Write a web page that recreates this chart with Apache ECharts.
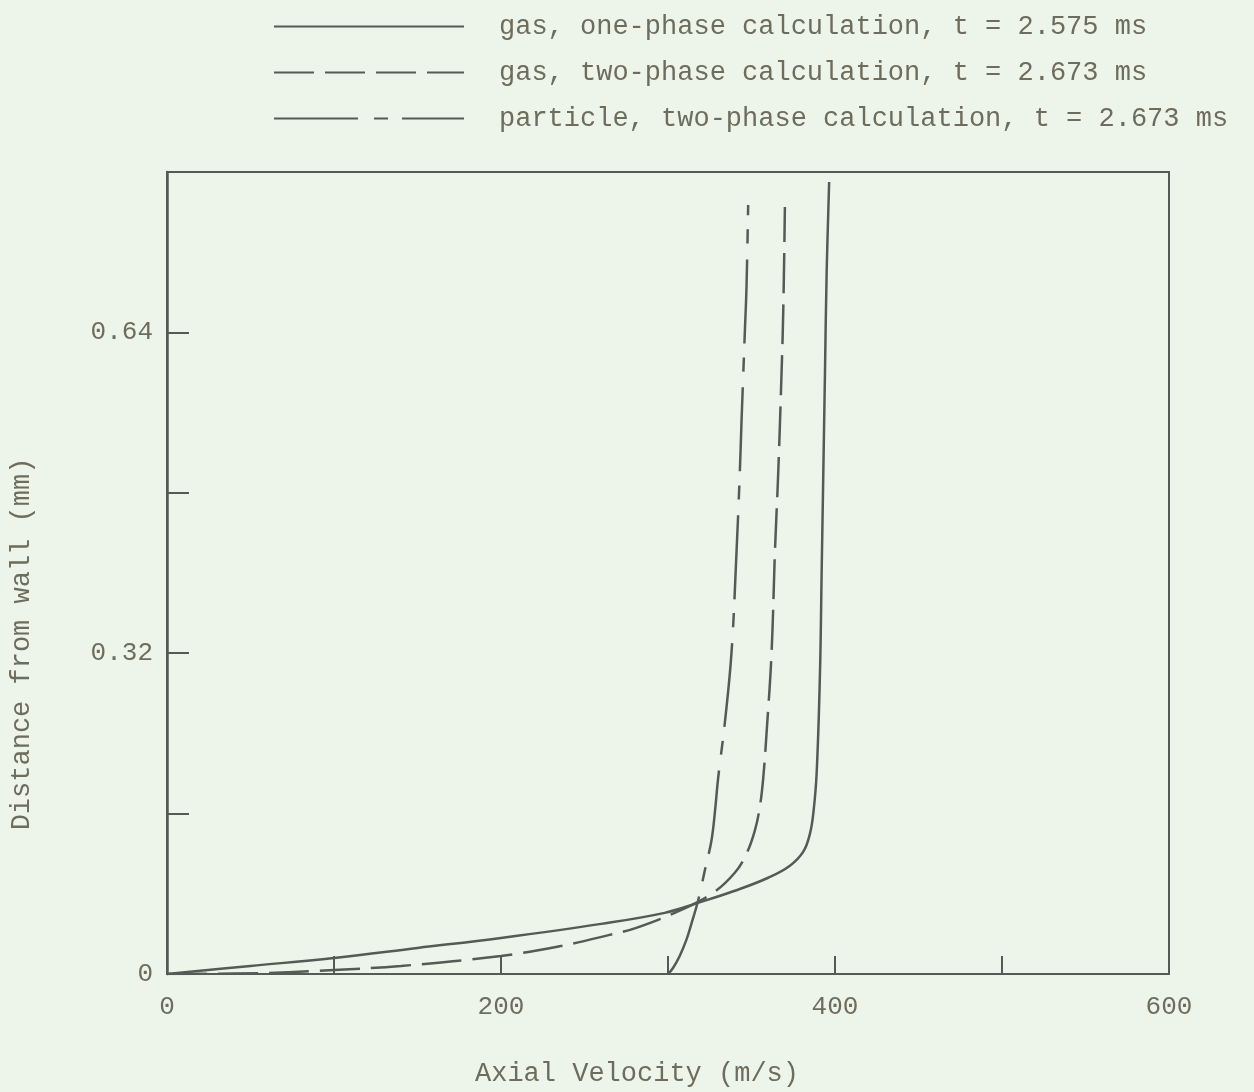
<!DOCTYPE html>
<html><head><meta charset="utf-8">
<script src="https://cdn.jsdelivr.net/npm/echarts@6/dist/echarts.min.js"></script>
<style>html,body{margin:0;padding:0;background:#edf5ea;}#c{width:1254px;height:1092px;}</style>
</head><body><div id="c"></div>
<script>
// Axial velocity (m/s) vs distance from wall (mm)
const seriesNames = [
  'gas, one-phase calculation, t = 2.575 ms',
  'gas, two-phase calculation, t = 2.673 ms',
  'particle, two-phase calculation, t = 2.673 ms'
];
const gasOnePhase = [
  [0,0],[50,0.008],[100,0.016],[150,0.026],[200,0.036],[260,0.050],[298,0.061],[318,0.071],
  [340,0.083],[360,0.096],[373,0.108],[381,0.122],[385,0.14],[387,0.16],[389,0.2],
  [391,0.3],[392,0.4],[393,0.5],[394,0.6],[395,0.7],[396.5,0.79]
];
const gasTwoPhase = [
  [0,0],[60,0.001],[100,0.004],[140,0.008],[200,0.018],[236,0.028],[265,0.039],[281,0.046],
  [308,0.064],[327,0.081],[340,0.101],[347,0.12],[352,0.143],[355,0.167],[357,0.195],
  [359,0.24],[362,0.32],[364,0.42],[366,0.5],[368,0.6],[369,0.66],[370,0.765]
];
const particleTwoPhase = [
  [300,0],[303,0.006],[307,0.018],[311,0.034],[314,0.05],[318,0.073],[322,0.103],
  [326,0.133],[328,0.16],[330,0.195],[334,0.25],[338,0.32],[341,0.42],[343,0.5],
  [344,0.55],[346,0.64],[347,0.685],[348,0.767]
];
const xTicks = [0, 200, 400, 600];
const yTickLabels = [0, 0.32, 0.64];

const FONT = 'Liberation Mono';
const TXT = '#6e6c5c';
const LINE = '#545a55';
const chart = echarts.init(document.getElementById('c'));
chart.setOption({
  backgroundColor: '#edf5ea',
  animation: false,
  legend: {
    orient: 'vertical', left: 268, top: 8,
    itemWidth: 190, itemHeight: 14, itemGap: 19,
    itemStyle: { opacity: 0 },
    textStyle: { fontFamily: FONT, fontSize: 27, color: TXT, padding: [0,0,0,30] },
    data: seriesNames
  },
  grid: { left: 163, right: 85, top: 172, bottom: 117, show: true, borderColor: LINE, borderWidth: 2, backgroundColor: 'transparent' },
  xAxis: {
    type: 'value', min: 0, max: 600, interval: 100,
    name: 'Axial Velocity (m/s)', nameLocation: 'middle', nameGap: 86,
    nameTextStyle: { fontFamily: FONT, fontSize: 27, color: TXT, padding: [0, 62, 0, 0] },
    axisLine: { lineStyle: { color: LINE, width: 2 } },
    axisTick: { inside: true, length: 18, lineStyle: { color: LINE, width: 2 } },
    splitLine: { show: false },
    axisLabel: { margin: 20, fontFamily: FONT, fontSize: 26, color: TXT,
      formatter: v => xTicks.includes(v) ? String(v) : '' }
  },
  yAxis: {
    type: 'value', min: 0, max: 0.8, interval: 0.16,
    name: 'Distance from wall (mm)', nameLocation: 'middle', nameGap: 132, nameRotate: 90,
    nameTextStyle: { fontFamily: FONT, fontSize: 27, color: TXT, padding: [0, 142, 0, 0] },
    axisLine: { show: true, lineStyle: { color: LINE, width: 2.5 } },
    axisTick: { show: true, inside: true, length: 22, lineStyle: { color: LINE, width: 2 } },
    splitLine: { show: false },
    axisLabel: { margin: 14, fontFamily: FONT, fontSize: 26, color: TXT,
      formatter: v => yTickLabels.some(t => Math.abs(t - v) < 1e-9) ? (v === 0 ? '0' : v.toFixed(2)) : '' }
  },
  series: [
    { name: seriesNames[0], type: 'line', data: gasOnePhase, symbol: 'none', smooth: 0.4,
      lineStyle: { color: LINE, width: 2.5 }, itemStyle: { color: LINE } },
    { name: seriesNames[1], type: 'line', data: gasTwoPhase, symbol: 'none', smooth: 0.4,
      lineStyle: { color: LINE, width: 2.5, type: [40, 11] }, itemStyle: { color: LINE } },
    { name: seriesNames[2], type: 'line', data: particleTwoPhase, symbol: 'none', smooth: 0.4,
      lineStyle: { color: LINE, width: 2.5, type: [84, 16, 14, 14] }, itemStyle: { color: LINE } }
  ]
});
</script></body></html>
